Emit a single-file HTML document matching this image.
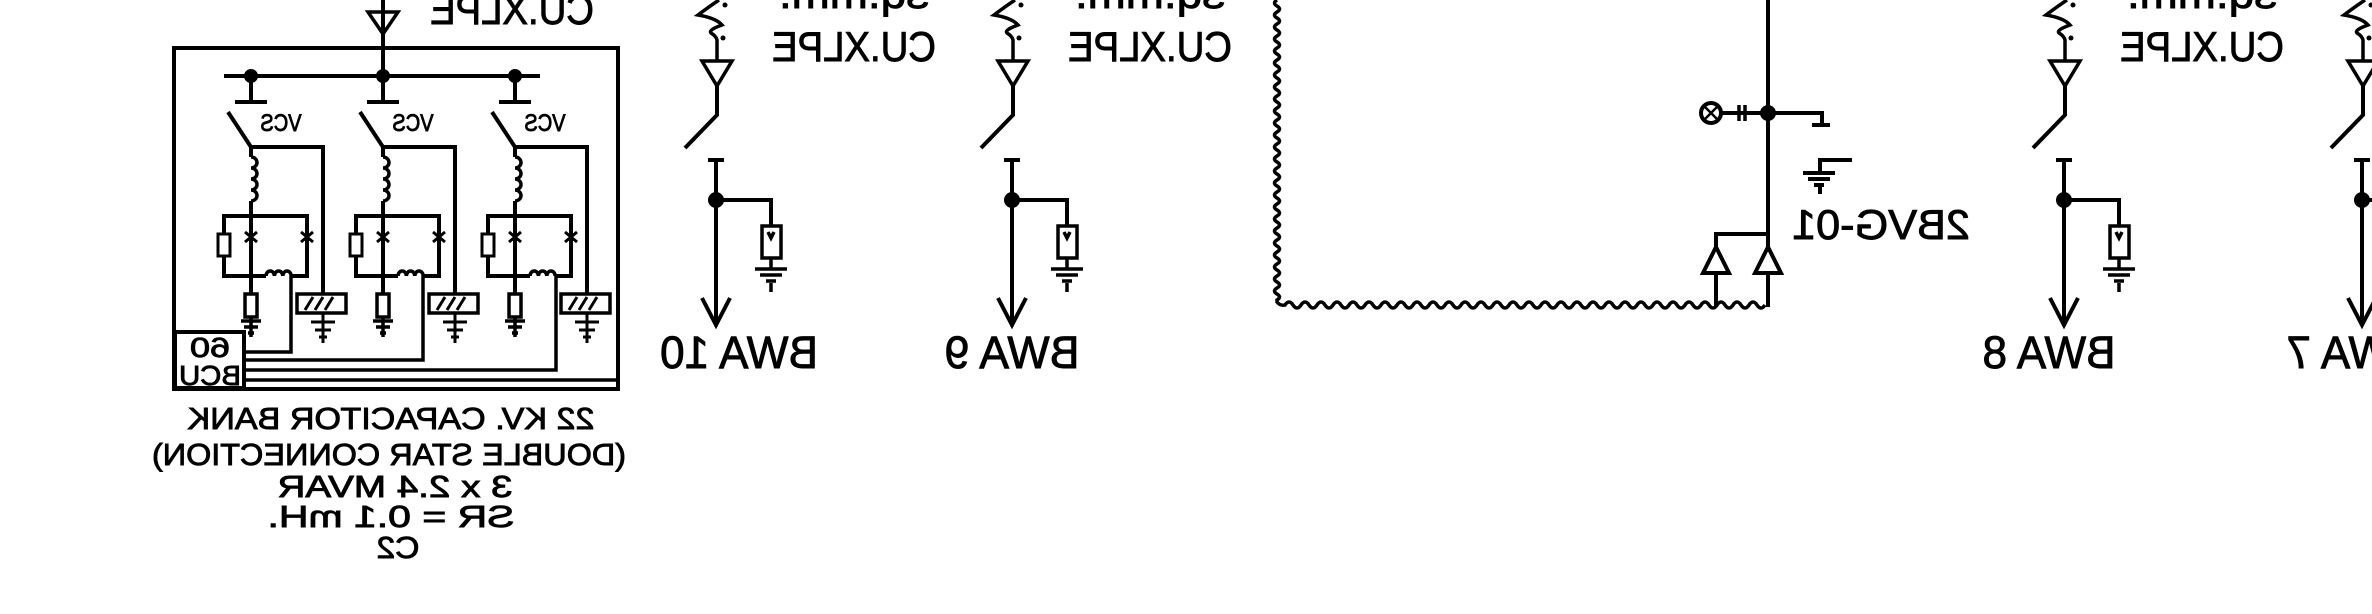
<!DOCTYPE html>
<html><head><meta charset="utf-8"><style>
html,body{margin:0;padding:0;background:#fff;width:2372px;height:614px;overflow:hidden}
svg{display:block}
text{font-family:"Liberation Sans",sans-serif;fill:#000;font-weight:normal;stroke:#000;stroke-width:0.9px}
</style></head><body>
<svg id="sch" width="2372" height="614" viewBox="0 0 2372 614" xmlns="http://www.w3.org/2000/svg" fill="none" stroke="#000" stroke-width="4" stroke-linecap="butt">
<defs>
<g id="phaseUnit">
 <circle cx="0" cy="76" r="5" fill="#000"/>
 <path d="M0 76 V102 M-16 102 H16"/>
 <path d="M-23 112 L0 147 V157"/>
 <path d="M0 157 a6 5.5 0 1 1 0 11 a6 5.5 0 1 1 0 11 a6 5.5 0 1 1 0 11 a6 5.5 0 1 1 0 11" stroke-width="3.5"/>
 <path d="M0 201 V294 M0 147 H72 V294"/>
 <path d="M-27 278 V216 H56 V278 M-27 276 H15 M40 276 H56"/>
 <path d="M15 276 a4.2 5 0 0 1 8.4 0 a4.2 5 0 0 1 8.4 0 a4.2 5 0 0 1 8.4 0" stroke-width="3.5"/>
 <rect x="-33" y="234" width="12" height="22" fill="#fff" stroke-width="3"/>
 <path d="M-6 232 L6 242 M6 232 L-6 242 M50 232 L62 242 M62 232 L50 242" stroke-width="3"/>
 <rect x="-6" y="294" width="12" height="23" stroke-width="3.5"/>
 <path d="M0 317 V337 M-10 321 H10 M-7 327 H7 M-3 333 H3" stroke-width="3.5"/>
 <rect x="46" y="294" width="49" height="19" stroke-width="3.5"/>
 <path d="M54 310 L62 297 M64 310 L72 297 M74 310 L82 297 M72 313 V343 M60 322 H84 M64 330 H80 M68 337 H76" stroke-width="3"/>
</g>
<g id="feederUnit">
 <path d="M3 0 Q-6 6 -18 15 Q0 18 6 25 Q-8 30 -5 33 Q0 36 1 40 V61" stroke-width="3.5"/>
 <circle cx="9" cy="5" r="2.5" fill="#000" stroke="none"/><circle cx="7" cy="38" r="2.5" fill="#000" stroke="none"/>
 <path d="M-14 61 H16 L1 86 Z" stroke-width="3.5"/>
 <path d="M1 86 V115 L-31 148"/>
 <path d="M-8 160 H8 M0 160 V325 M-14 298 L0 325 L14 298"/>
 <circle cx="0" cy="200" r="6" fill="#000"/>
 <path d="M0 200 H55 V226"/>
 <rect x="46" y="226" width="19" height="32" stroke-width="3.5"/>
 <path d="M52 232 L55 238 L58 232 M55 258 V270 M39 269 H71 M44 275 H66 M50 281 H60 M55 283 V292" stroke-width="3.5"/>
</g>
</defs>
<g id="bank">
 <line x1="383" y1="0" x2="383" y2="76"/>
 <path d="M368 12 L398 12 L383 34 Z" stroke-width="3.5"/>
 <g transform="translate(512,24) scale(-1,1)"><text x="0" y="0" text-anchor="middle" font-size="42" textLength="164" lengthAdjust="spacingAndGlyphs">CU.XLPE</text></g>
 <rect x="174" y="48" width="444" height="341"/>
 <line x1="224" y1="76" x2="540" y2="76"/>
 <use href="#phaseUnit" transform="translate(251,0)"/>
 <use href="#phaseUnit" transform="translate(383,0)"/>
 <use href="#phaseUnit" transform="translate(515,0)"/>
 <g font-size="24">
  <g transform="translate(281,131) scale(-1,1)"><text text-anchor="middle" textLength="41" lengthAdjust="spacingAndGlyphs">VCS</text></g>
  <g transform="translate(413,131) scale(-1,1)"><text text-anchor="middle" textLength="41" lengthAdjust="spacingAndGlyphs">VCS</text></g>
  <g transform="translate(545,131) scale(-1,1)"><text text-anchor="middle" textLength="41" lengthAdjust="spacingAndGlyphs">VCS</text></g>
 </g>
 <rect x="175" y="332" width="69" height="56"/>
 <g transform="translate(210,357) scale(-1,1)"><text x="0" y="0" text-anchor="middle" font-size="28" textLength="40" lengthAdjust="spacingAndGlyphs">60</text></g>
 <g transform="translate(210,385) scale(-1,1)"><text x="0" y="0" text-anchor="middle" font-size="28" textLength="62" lengthAdjust="spacingAndGlyphs">BCU</text></g>
 <path d="M291 276 V352 H244 M423 276 V360 H244 M556 276 V370 H244 M244 380 H616" stroke-width="3.5"/>
 <g font-size="31">
  <g transform="translate(391,429) scale(-1,1)"><text text-anchor="middle" textLength="407" lengthAdjust="spacingAndGlyphs">22 KV. CAPACITOR BANK</text></g>
  <g transform="translate(389,465) scale(-1,1)"><text text-anchor="middle" textLength="474" lengthAdjust="spacingAndGlyphs">(DOUBLE STAR CONNECTION)</text></g>
  <g transform="translate(395,497) scale(-1,1)"><text text-anchor="middle" textLength="235" lengthAdjust="spacingAndGlyphs">3 x 2.4 MVAR</text></g>
  <g transform="translate(391,527) scale(-1,1)"><text text-anchor="middle" textLength="247" lengthAdjust="spacingAndGlyphs">SR = 0.1 mH.</text></g>
  <g transform="translate(398,558) scale(-1,1)"><text text-anchor="middle" textLength="43" lengthAdjust="spacingAndGlyphs">C2</text></g>
 </g>
</g>
<g id="feeders">
 <use href="#feederUnit" transform="translate(716,0)"/>
 <use href="#feederUnit" transform="translate(1012,0)"/>
 <use href="#feederUnit" transform="translate(2064,0)"/>
 <use href="#feederUnit" transform="translate(2362,0)"/>
 <g font-size="45">
  <g transform="translate(739,368) scale(-1,1)"><text text-anchor="middle" textLength="158" lengthAdjust="spacingAndGlyphs">BWA 10</text></g>
  <g transform="translate(1012,368) scale(-1,1)"><text text-anchor="middle" textLength="135" lengthAdjust="spacingAndGlyphs">BWA 9</text></g>
  <g transform="translate(2049,368) scale(-1,1)"><text text-anchor="middle" textLength="133" lengthAdjust="spacingAndGlyphs">BWA 8</text></g>
  <g transform="translate(2353,368) scale(-1,1)"><text text-anchor="middle" textLength="133" lengthAdjust="spacingAndGlyphs">BWA 7</text></g>
 </g>
 <g font-size="42">
  <g transform="translate(854,61) scale(-1,1)"><text text-anchor="middle" textLength="164" lengthAdjust="spacingAndGlyphs">CU.XLPE</text><text text-anchor="middle" y="-53" textLength="150" lengthAdjust="spacingAndGlyphs">sq.mm.</text></g>
  <g transform="translate(1150,61) scale(-1,1)"><text text-anchor="middle" textLength="164" lengthAdjust="spacingAndGlyphs">CU.XLPE</text><text text-anchor="middle" y="-53" textLength="150" lengthAdjust="spacingAndGlyphs">sq.mm.</text></g>
  <g transform="translate(2202,61) scale(-1,1)"><text text-anchor="middle" textLength="164" lengthAdjust="spacingAndGlyphs">CU.XLPE</text><text text-anchor="middle" y="-53" textLength="150" lengthAdjust="spacingAndGlyphs">sq.mm.</text></g>
 </g>
</g>
<g id="vt">
 <path id="wave" stroke-width="3.5"/>
 <line x1="1768" y1="0" x2="1768" y2="307"/>
 <circle cx="1768" cy="113" r="6" fill="#000"/>
 <line x1="1721" y1="113" x2="1768" y2="113"/>
 <circle cx="1711" cy="113" r="10"/>
 <path d="M1705 107 L1717 119 M1717 107 L1705 119" stroke-width="2.5"/>
 <path d="M1739 105 V121 M1745 105 V121" stroke-width="3.5"/>
 <path d="M1768 113 H1822 V125 M1812 125 H1830"/>
 <path d="M1852 160 H1820 V173 M1803 173 H1835 M1808 179 H1830 M1814 185 H1824 M1820 187 V194"/>
 <path d="M1768 234 H1716 V307"/>
 <path d="M1716 247 L1703 273 H1729 Z" fill="#fff"/>
 <path d="M1768 247 L1755 273 H1781 Z" fill="#fff"/>
 <g transform="translate(1881,239) scale(-1,1)"><text text-anchor="middle" font-size="42" textLength="178" lengthAdjust="spacingAndGlyphs">2BVG-01</text></g>
</g>
<script>
var d='M1277 0';
for(var y=0;y<296;y+=12){d+=' q-5 3 0 6 q5 3 0 6';}
d+=' L1277 302 Q1280 306 1285 305';
for(var xx=1285;xx<1762;xx+=16){d+=' q4 -6 8 0 q4 6 8 0';}
document.getElementById('wave').setAttribute('d',d);
</script>
</svg>
</body></html>
